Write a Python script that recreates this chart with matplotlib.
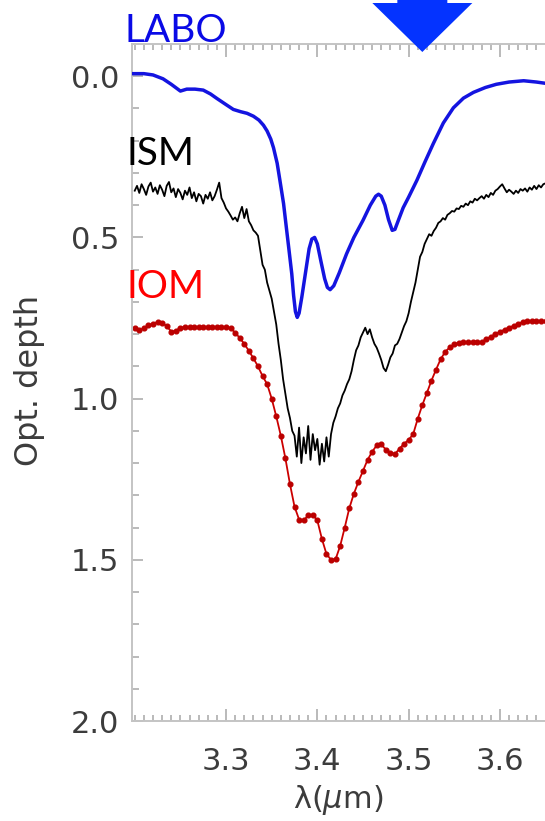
import numpy as np
import matplotlib
matplotlib.use("Agg")
import matplotlib.pyplot as plt
from matplotlib.patches import Polygon
from matplotlib.ticker import MultipleLocator

# ---------------- data ----------------
labo_x = [3.198, 3.210, 3.220, 3.231, 3.240, 3.250, 3.257, 3.266, 3.275, 3.283,
          3.290, 3.300, 3.308, 3.316, 3.323, 3.330, 3.336, 3.341, 3.345, 3.349,
          3.352, 3.356, 3.359, 3.363, 3.366, 3.369, 3.372, 3.374, 3.376, 3.378,
          3.380, 3.383, 3.387, 3.391, 3.394, 3.397, 3.400, 3.404, 3.408, 3.411,
          3.414, 3.418, 3.424, 3.432, 3.440, 3.450, 3.458, 3.464, 3.467, 3.470,
          3.474, 3.478, 3.482, 3.485, 3.489, 3.494, 3.500, 3.509, 3.518, 3.527,
          3.538, 3.549, 3.560, 3.571, 3.584, 3.596, 3.610, 3.626, 3.640, 3.650]
labo_y = [-0.008, -0.008, -0.004, 0.008, 0.025, 0.046, 0.040, 0.040, 0.043, 0.055,
          0.069, 0.088, 0.103, 0.110, 0.115, 0.124, 0.136, 0.152, 0.170, 0.195,
          0.222, 0.270, 0.323, 0.395, 0.468, 0.540, 0.613, 0.680, 0.730, 0.748,
          0.735, 0.685, 0.610, 0.535, 0.505, 0.500, 0.520, 0.575, 0.628, 0.655,
          0.662, 0.650, 0.610, 0.551, 0.500, 0.447, 0.400, 0.372, 0.366, 0.372,
          0.400, 0.445, 0.478, 0.475, 0.445, 0.408, 0.375, 0.323, 0.265, 0.209,
          0.145, 0.098, 0.068, 0.050, 0.035, 0.025, 0.018, 0.014, 0.018, 0.022]

ism_x0, ism_dx = 3.200, 0.0025
ism_y = [0.355, 0.340, 0.362, 0.335, 0.350, 0.368, 0.342, 0.330, 0.358, 0.345,
         0.365, 0.338, 0.352, 0.372, 0.340, 0.328, 0.360, 0.348, 0.375, 0.350,
         0.362, 0.382, 0.355, 0.368, 0.345, 0.378, 0.360, 0.388, 0.365, 0.372,
         0.395, 0.368, 0.380, 0.360, 0.385, 0.372, 0.352, 0.330, 0.378, 0.392,
         0.410, 0.420, 0.432, 0.445, 0.438, 0.450, 0.425, 0.405, 0.440, 0.412,
         0.450, 0.462, 0.478, 0.485, 0.495, 0.540, 0.585, 0.600, 0.640, 0.665,
         0.690, 0.730, 0.770, 0.830, 0.880, 0.940, 0.985, 1.030, 1.060, 1.100,
         1.115, 1.180, 1.090, 1.200, 1.120, 1.170, 1.085, 1.190, 1.110, 1.160,
         1.125, 1.205, 1.140, 1.195, 1.120, 1.180, 1.110, 1.075, 1.055, 1.030,
         1.015, 0.990, 0.975, 0.955, 0.940, 0.915, 0.880, 0.850, 0.835, 0.810,
         0.795, 0.780, 0.800, 0.785, 0.810, 0.830, 0.842, 0.860, 0.880, 0.905,
         0.915, 0.895, 0.872, 0.860, 0.835, 0.830, 0.815, 0.795, 0.775, 0.760,
         0.735, 0.700, 0.670, 0.640, 0.600, 0.560, 0.545, 0.520, 0.505, 0.490,
         0.495, 0.480, 0.470, 0.455, 0.450, 0.440, 0.445, 0.430, 0.425, 0.418,
         0.420, 0.410, 0.412, 0.402, 0.405, 0.395, 0.400, 0.388, 0.392, 0.380,
         0.385, 0.378, 0.372, 0.380, 0.368, 0.375, 0.362, 0.368, 0.355, 0.350,
         0.342, 0.335, 0.348, 0.360, 0.352, 0.358, 0.365, 0.355, 0.362, 0.350,
         0.355, 0.348, 0.358, 0.345, 0.352, 0.340, 0.350, 0.338, 0.345, 0.335,
         0.332]

iom_x0, iom_dx = 3.200, 0.005
iom_y = [0.780, 0.788, 0.782, 0.772, 0.768, 0.762, 0.765, 0.775, 0.792, 0.790,
         0.780, 0.778, 0.778, 0.778, 0.778, 0.778, 0.778, 0.778, 0.778, 0.778,
         0.778, 0.782, 0.795, 0.812, 0.830, 0.852, 0.875, 0.900, 0.930, 0.955,
         1.000, 1.055, 1.115, 1.185, 1.265, 1.335, 1.375, 1.378, 1.362, 1.360,
         1.378, 1.435, 1.482, 1.500, 1.498, 1.457, 1.400, 1.340, 1.295, 1.258,
         1.224, 1.190, 1.165, 1.145, 1.142, 1.158, 1.168, 1.172, 1.155, 1.140,
         1.128, 1.110, 1.062, 1.020, 0.982, 0.944, 0.910, 0.878, 0.855, 0.841,
         0.832, 0.826, 0.825, 0.825, 0.825, 0.825, 0.825, 0.815, 0.808, 0.800,
         0.793, 0.786, 0.780, 0.774, 0.768, 0.762, 0.760, 0.760, 0.760, 0.760,
         0.760]

ism_x = ism_x0 + ism_dx * np.arange(len(ism_y))
iom_x = iom_x0 + iom_dx * np.arange(len(iom_y))

xticks = [3.3, 3.4, 3.5, 3.6]
yticks = [0.0, 0.5, 1.0, 1.5, 2.0]
arrow_x = 3.515
series_labels = ["LABO", "ISM", "IOM"]

# ---------------- figure ----------------
W, H = 545, 821
fig = plt.figure(figsize=(W / 100, H / 100), dpi=100)
plt.rcParams['font.family'] = ['DejaVu Sans']

x_lo, x_hi = 3.197, 3.70
left_px, top_px, bottom_px = 132, 44, 721
px_per_unit = 913.0
right_px = left_px + (x_hi - x_lo) * px_per_unit
ax = fig.add_axes([left_px / W, (H - bottom_px) / H,
                   (right_px - left_px) / W, (bottom_px - top_px) / H])

ax.plot(ism_x, ism_y, color='black', lw=1.3, zorder=3)
ax.plot(iom_x, iom_y, color='#cc0000', lw=1.3, marker='o', ms=3.4,
        mec='#bb0000', mfc='#bb0000', zorder=2)
ax.plot(labo_x, labo_y, color='#1414e0', lw=2.5, zorder=4)

ax.set_xlim(x_lo, x_hi)
ax.set_ylim(2.0, -0.10)

ax.set_xticks(xticks)
ax.set_yticks(yticks)
ax.xaxis.set_minor_locator(MultipleLocator(0.01))
ax.yaxis.set_minor_locator(MultipleLocator(0.1))
ax.set_yticklabels([f"{v:.1f}" for v in yticks])
ax.set_xticklabels([f"{v:.1f}" for v in xticks])

tick_col = '#b4b4b4'
ax.tick_params(axis='both', which='both', direction='in', color=tick_col,
               labelcolor='#3c3c3c', labelsize=22, width=1.3,
               top=True, right=False)
ax.tick_params(axis='x', which='major', length=9, pad=19)
ax.tick_params(axis='x', which='minor', length=4)
ax.tick_params(axis='y', which='major', length=8, pad=9)
ax.tick_params(axis='y', which='minor', length=5)
for s in ax.spines.values():
    s.set_color('#c4c4c4')
    s.set_linewidth(1.4)
ax.spines['right'].set_visible(False)

fig.text(30 / W, 1 - 380 / H, "Opt. depth", rotation=90, ha='center',
         va='center', fontsize=23, color='#3c3c3c')
fig.text(338 / W, 1 - 800 / H, "λ($\\mu$m)", ha='center', va='center',
         fontsize=22, color='#3c3c3c')

lab_font = ['Lato', 'DejaVu Sans']
fig.text(124 / W, 1 - 42 / H, series_labels[0], color='#0a0ae6', fontsize=28,
         family=lab_font, ha='left', va='baseline')
fig.text(126 / W, 1 - 165 / H, series_labels[1], color='black', fontsize=28,
         family=lab_font, ha='left', va='baseline')
fig.text(126 / W, 1 - 298 / H, series_labels[2], color='#ff0000', fontsize=28,
         family=lab_font, ha='left', va='baseline')

# downward arrow at top, located at arrow_x in data coordinates
ax_px = left_px + (arrow_x - x_lo) * px_per_unit
half_head, half_shaft = 50, 25
pts_px = [(ax_px - half_shaft, -10), (ax_px + half_shaft, -10),
          (ax_px + half_shaft, 3), (ax_px + half_head, 3),
          (ax_px, 52), (ax_px - half_head, 3), (ax_px - half_shaft, 3)]
pts = [(x / W, 1 - y / H) for x, y in pts_px]
fig.add_artist(Polygon(pts, closed=True, transform=fig.transFigure,
                       facecolor='#0433ff', edgecolor='none', zorder=10,
                       clip_on=False))

fig.savefig("out.png", dpi=100)
